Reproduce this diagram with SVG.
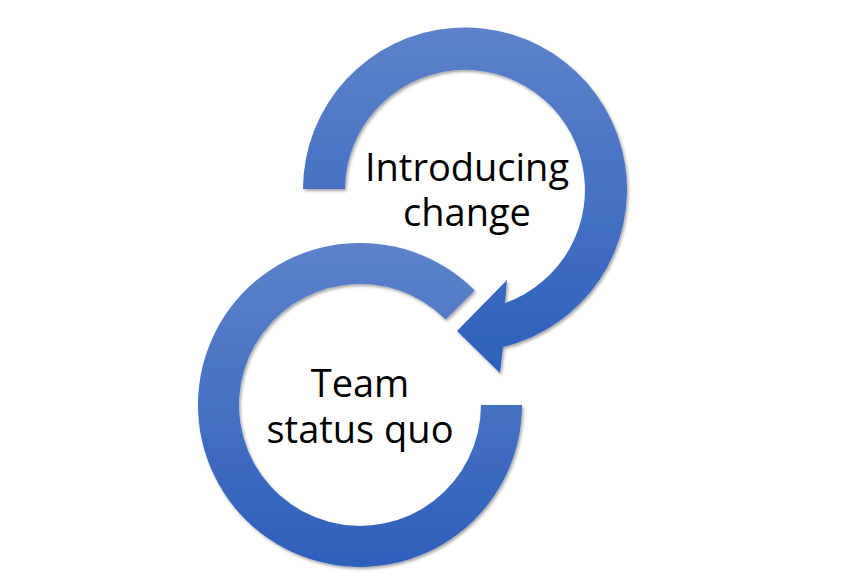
<svg xmlns="http://www.w3.org/2000/svg" width="854" height="576" viewBox="0 0 854 576">
  <style>
    .lbl { font-family: "Open Sans", "Noto Sans", "Liberation Sans", sans-serif; font-size: 38px; fill: #000000; text-anchor: middle; }
    .arrow { fill: url(#blueGrad); filter: url(#shadow); }
  </style>
  <defs>
    <linearGradient id="blueGrad" x1="0" y1="0" x2="0" y2="1">
      <stop offset="0" stop-color="#5d82ca"/>
      <stop offset="1" stop-color="#2e60bb"/>
    </linearGradient>
    <filter id="shadow" x="-10%" y="-10%" width="120%" height="120%">
      <feDropShadow dx="1.5" dy="2" stdDeviation="1.8" flood-color="#000000" flood-opacity="0.35"/>
    </filter>
  </defs>
  <rect width="854" height="576" fill="#ffffff"/>
  <g id="connectors">
    <path id="arrow-top" class="arrow" d="M 303 189 A 162 162 0 1 1 503 347 L 500 373 L 457 331 L 507 280 L 505 303 A 120 120 0 1 0 345 189 Z"/>
    <path id="ring-bottom" class="arrow" d="M 522 405 A 162 162 0 1 1 474.6 290.4 L 445.6 319.4 A 121 121 0 1 0 481 405 Z"/>
  </g>
  <g id="node-introducing">
    <text class="lbl" x="467" y="181">Introducing</text>
    <text class="lbl" x="467" y="226">change</text>
  </g>
  <g id="node-status-quo">
    <text class="lbl" x="360" y="397">Team</text>
    <text class="lbl" x="360" y="443">status quo</text>
  </g>
</svg>
